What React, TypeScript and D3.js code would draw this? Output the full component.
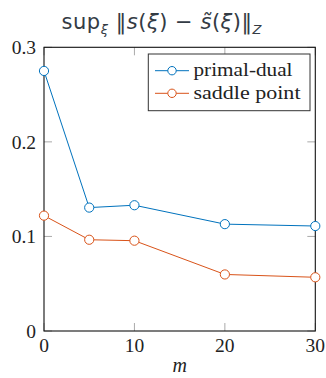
import React from "react";
import * as d3 from "d3";

const mValues = [0, 5, 10, 20, 30];
const primalDual = [0.275, 0.1305, 0.133, 0.113, 0.111];
const saddlePoint = [0.122, 0.0965, 0.0955, 0.0598, 0.0568];
const xTicks = [0, 10, 20, 30];
const yTicks = [0, 0.1, 0.2, 0.3];
const yTickLabels = ["0", "0.1", "0.2", "0.3"];
const seriesNames = ["primal-dual", "saddle point"];
const seriesColors = ["#0072BD", "#D95319"];

const W = 326, H = 378;
const L = 44, R = 315.3, T = 47.3, B = 331;

const serifStyle = { fontFamily: '"Liberation Serif", "DejaVu Serif", "Times New Roman", serif' };

export default function App() {
  const x = d3.scaleLinear().domain([0, 30]).range([L, R]);
  const y = d3.scaleLinear().domain([0, 0.3]).range([B, T]);
  const line = d3.line<number>().x((_, i) => x(mValues[i])).y((d) => y(d));
  const series = [primalDual, saddlePoint];
  const fs = 19.5;
  return (
    <svg width={W} height={H} style={{ position: "absolute", left: 0, top: 0 }}>
      <rect width={W} height={H} fill="white" />
      {/* title */}
      <text x={61.5} y={29} fill="#333b44" style={{ fontFamily: '"DejaVu Sans", sans-serif' }} fontSize={21} textLength={200} lengthAdjust="spacing">
        <tspan>sup</tspan>
        <tspan fontSize={13} dy={5} fontStyle="italic">ξ</tspan>
        <tspan dy={-5}> ‖</tspan>
        <tspan fontStyle="italic">s</tspan>
        <tspan>(</tspan>
        <tspan fontStyle="italic">ξ</tspan>
        <tspan>) − </tspan>
        <tspan fontStyle="italic">s̃</tspan>
        <tspan>(</tspan>
        <tspan fontStyle="italic">ξ</tspan>
        <tspan>)‖</tspan>
        <tspan fontSize={13} dy={5} fontStyle="italic">Z</tspan>
      </text>
      {/* ticks */}
      {xTicks.map((t) => (
        <g key={"xt" + t}>
          <line x1={x(t)} x2={x(t)} y1={B} y2={B - 8} stroke="#aaa" strokeWidth={1} />
          <line x1={x(t)} x2={x(t)} y1={T} y2={T + 8} stroke="#aaa" strokeWidth={1} />
          <text x={x(t)} y={B + 20.5} textAnchor="middle" style={serifStyle} fontSize={fs} fill="#222">{t}</text>
        </g>
      ))}
      {yTicks.map((t, i) => (
        <g key={"yt" + t}>
          <line x1={L} x2={L + 8} y1={y(t)} y2={y(t)} stroke="#aaa" strokeWidth={1} />
          <line x1={R} x2={R - 8} y1={y(t)} y2={y(t)} stroke="#aaa" strokeWidth={1} />
          <text x={L - 8} y={y(t) + 7} textAnchor="end" style={serifStyle} fontSize={fs} fill="#222">{yTickLabels[i]}</text>
        </g>
      ))}
      <rect x={L} y={T} width={R - L} height={B - T} fill="none" stroke="#111" strokeWidth={1.1} />
      {/* series */}
      {series.map((s, si) => (
        <g key={"s" + si}>
          <path d={line(s) || ""} fill="none" stroke={seriesColors[si]} strokeWidth={1} />
          {s.map((v, i) => (
            <circle key={i} cx={x(mValues[i])} cy={y(v)} r={4.6} fill="white" stroke={seriesColors[si]} strokeWidth={1} />
          ))}
        </g>
      ))}
      {/* legend */}
      <rect x={148.3} y={54} width={161.7} height={56.7} fill="white" stroke="#333" strokeWidth={1} />
      {seriesNames.map((n, i) => {
        const yy = 70.7 + i * 22.6;
        return (
          <g key={n}>
            <line x1={155} x2={189} y1={yy} y2={yy} stroke={seriesColors[i]} strokeWidth={1} />
            <circle cx={172} cy={yy} r={4.2} fill="white" stroke={seriesColors[i]} strokeWidth={1} />
            <text x={193.5} y={yy + 5.5} style={serifStyle} fontSize={fs} fill="#222" textLength={i === 0 ? 99 : 107} lengthAdjust="spacingAndGlyphs">{n}</text>
          </g>
        );
      })}
      <text x={(L + R) / 2} y={372} textAnchor="middle" style={serifStyle} fontStyle="italic" fontSize={20} fill="#222">m</text>
    </svg>
  );
}
